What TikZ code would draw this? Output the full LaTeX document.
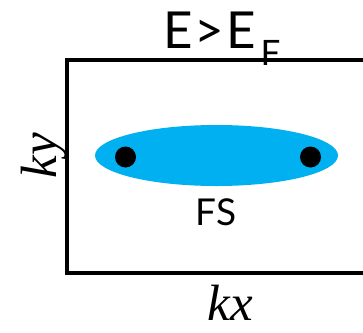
\documentclass[tikz,border=0pt]{standalone}
\usepackage{fontspec}
\setmainfont{Liberation Serif}
\newfontfamily\labsans{Lato}
\definecolor{fscyan}{HTML}{00B0F0}
\begin{document}
\begin{tikzpicture}[x=1pt,y=-1pt,
  frame/.style={line width=3.5pt,draw=black},
  sanslab/.style={inner sep=0pt,font=\labsans\fontsize{51}{51}\selectfont},
  fslab/.style={inner sep=0pt,font=\labsans\fontsize{37}{37}\selectfont},
  axislab/.style={inner sep=0pt,font=\itshape\fontsize{51}{51}\selectfont},
  kdot/.style={fill=black}]
\useasboundingbox (0,0) rectangle (363,332);
\clip (0,0) rectangle (363,332);
\draw[frame] (380,60) -- (67,60) -- (67,273) -- (380,273);
\fill[fscyan] (216.5,155.5) ellipse [x radius=121.5, y radius=30.5];
\fill[kdot] (125.5,157) circle [radius=10.5];
\fill[kdot] (310.5,157) circle [radius=10.5];
\node[sanslab,anchor=base west] (title) at (163,48) {E\kern2pt>\kern2ptE\kern5pt\raisebox{-17pt}{\fontsize{35}{35}\selectfont F}};
\node[fslab,anchor=base] (fs) at (216,225) {FS};
\node[axislab,anchor=base] (kx) at (230,320) {kx};
\node[axislab,anchor=base,rotate=90] (ky) at (56,156) {ky};
\end{tikzpicture}
\end{document}
